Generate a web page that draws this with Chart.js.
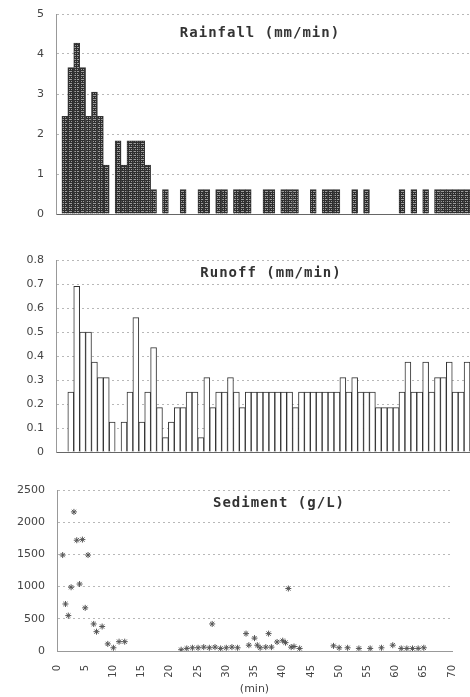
<!DOCTYPE html>
<html>
<head>
<meta charset="utf-8">
<script src="https://cdn.jsdelivr.net/npm/chart.js@4.4.0/dist/chart.umd.min.js"></script>
<style>
  body { margin: 0; background: #fff; }
  #page { position: relative; width: 470px; height: 697px; overflow: hidden; }
  .panel { position: absolute; left: 0; width: 470px; }
  .label { position: absolute; transform: translate(-50%, -50%); font: bold 14px 'DejaVu Sans Mono', monospace; color: #333; letter-spacing: 1px; white-space: nowrap; }
</style>
</head>
<body>
<div id="page">
  <div class="panel" style="top:0;height:224px"><canvas id="rainChart"></canvas></div>
  <div class="panel" style="top:246px;height:216px"><canvas id="runoffChart"></canvas></div>
  <div class="panel" style="top:470px;height:227px"><canvas id="sedChart"></canvas></div>
  <div class="label" style="left:260px;top:32px">Rainfall (mm/min)</div>
  <div class="label" style="left:271px;top:272px">Runoff (mm/min)</div>
  <div class="label" style="left:279px;top:502px">Sediment (g/L)</div>
</div>
<script>
// Minute categories for the two bar panels (0..69)
const minutes = [0, 1, 2, 3, 4, 5, 6, 7, 8, 9, 10, 11, 12, 13, 14, 15, 16, 17, 18, 19,
    20, 21, 22, 23, 24, 25, 26, 27, 28, 29, 30, 31, 32, 33, 34, 35, 36, 37, 38, 39,
    40, 41, 42, 43, 44, 45, 46, 47, 48, 49, 50, 51, 52, 53, 54, 55, 56, 57, 58, 59,
    60, 61, 62, 63, 64, 65, 66, 67, 68, 69];

// Rainfall intensity (mm/min)
const rainfall = [0, 2.44, 3.66, 4.27, 3.66, 2.44, 3.05, 2.44, 1.22, 0,
    1.83, 1.22, 1.83, 1.83, 1.83, 1.22, 0.61, 0, 0.61, 0,
    0, 0.61, 0, 0, 0.61, 0.61, 0, 0.61, 0.61, 0,
    0.61, 0.61, 0.61, 0, 0, 0.61, 0.61, 0, 0.61, 0.61,
    0.61, 0, 0, 0.61, 0, 0.61, 0.61, 0.61, 0, 0,
    0.61, 0, 0.61, 0, 0, 0, 0, 0, 0.61, 0,
    0.61, 0, 0.61, 0, 0.61, 0.61, 0.61, 0.61, 0.61, 0.61];

// Runoff rate (mm/min)
const runoff = [0, 0, 0.25, 0.69, 0.5, 0.5, 0.375, 0.31, 0.31, 0.125,
    0, 0.125, 0.25, 0.56, 0.125, 0.25, 0.435, 0.185, 0.06, 0.125,
    0.185, 0.185, 0.25, 0.25, 0.06, 0.31, 0.185, 0.25, 0.25, 0.31,
    0.25, 0.185, 0.25, 0.25, 0.25, 0.25, 0.25, 0.25, 0.25, 0.25,
    0.185, 0.25, 0.25, 0.25, 0.25, 0.25, 0.25, 0.25, 0.31, 0.25,
    0.31, 0.25, 0.25, 0.25, 0.185, 0.185, 0.185, 0.185, 0.25, 0.375,
    0.25, 0.25, 0.375, 0.25, 0.31, 0.31, 0.375, 0.25, 0.25, 0.375];

// Sediment concentration samples (time in min, g/L)
const sedTime = [1, 1.5, 2, 2.5, 3, 3.5, 4, 4.5, 5, 5.5, 6.5, 7, 8, 9, 10, 11, 12,
    22, 23, 24, 25, 26, 27, 27.5, 28, 29, 30, 31, 32,
    33.5, 34, 35, 35.5, 36, 37, 37.5, 38, 39, 40, 40.5, 41, 41.5, 42, 43,
    49, 50, 51.5, 53.5, 55.5, 57.5, 59.5, 61, 62, 63, 64, 65];
const sediment = [1490, 730, 550, 990, 2160, 1720, 1040, 1730, 670, 1490, 420, 300, 380, 110, 50, 145, 145,
    20, 40, 50, 50, 60, 50, 420, 60, 40, 50, 60, 50,
    270, 90, 200, 90, 50, 60, 270, 60, 140, 160, 130, 970, 60, 70, 40,
    80, 50, 50, 40, 40, 50, 90, 40, 40, 40, 40, 50];

const rainTicks = [0, 5, 1];
const runoffTicks = [0, 0.8, 0.1];
const sedTicks = [0, 2500, 500];
const timeTicks = [0, 70, 5];

const tickFont = { family: "'DejaVu Sans', sans-serif", size: 11 };
const tickColor = '#444';

// Hatched fill for rainfall bars
function makeHatch() {
    const c = document.createElement('canvas');
    c.width = 4; c.height = 4;
    const g = c.getContext('2d');
    g.fillStyle = '#9c9c9c';
    g.fillRect(0, 0, 4, 4);
    g.fillStyle = '#2e2e2e';
    g.fillRect(0, 0, 4, 1);
    g.fillRect(0, 2, 4, 1);
    g.fillRect(0, 0, 1, 4);
    g.fillRect(2, 1, 1, 1);
    return g.createPattern(c, 'repeat');
}

function yAxis(range, width, fmt) {
    return {
        min: range[0],
        max: range[1],
        afterFit: s => { s.width = width; },
        ticks: {
            stepSize: range[2],
            padding: 3,
            font: tickFont,
            color: tickColor,
            callback: fmt
        },
        grid: {
            drawTicks: true,
            tickLength: 9,
            tickColor: 'rgba(0,0,0,0)',
            color: c => c.tick.value === 0 ? 'rgba(0,0,0,0)' : '#b8b8b8'
        },
        border: { color: '#999', dash: [2, 3] }
    };
}

function barChart(id, data, range, fmt, style) {
    return new Chart(document.getElementById(id), {
        type: 'bar',
        data: {
            labels: minutes,
            datasets: [Object.assign({
                data: data,
                barPercentage: 1,
                categoryPercentage: 1,
                borderWidth: 1,
                borderSkipped: 'bottom'
            }, style)]
        },
        options: {
            responsive: true,
            maintainAspectRatio: false,
            animation: false,
            layout: { padding: { top: 14, bottom: 10, left: 0, right: 0 } },
            plugins: { legend: { display: false }, tooltip: { enabled: false } },
            scales: {
                x: {
                    afterFit: s => { s.height = 0; },
                    ticks: { display: false },
                    grid: { display: false },
                    border: { color: '#666' }
                },
                y: yAxis(range, 56, fmt)
            }
        }
    });
}

document.addEventListener('DOMContentLoaded', function() {
    barChart('rainChart', rainfall, rainTicks, v => v, {
        backgroundColor: makeHatch(),
        borderColor: '#333'
    });

    barChart('runoffChart', runoff, runoffTicks, v => +v.toFixed(1), {
        backgroundColor: '#fff',
        borderColor: '#333'
    });

    new Chart(document.getElementById('sedChart'), {
        type: 'scatter',
        data: {
            datasets: [{
                data: sedTime.map((t, i) => ({ x: t, y: sediment[i] })),
                pointStyle: 'star',
                radius: 3,
                borderColor: '#555',
                borderWidth: 1,
                backgroundColor: '#fff'
            }]
        },
        options: {
            responsive: true,
            maintainAspectRatio: false,
            animation: false,
            layout: { padding: { top: 20, bottom: 0, left: 0, right: 7 } },
            plugins: { legend: { display: false }, tooltip: { enabled: false } },
            scales: {
                x: {
                    type: 'linear',
                    min: timeTicks[0],
                    max: timeTicks[1],
                    afterFit: s => { s.height = 46; },
                    ticks: {
                        stepSize: timeTicks[2],
                        autoSkip: false,
                        minRotation: 90,
                        maxRotation: 90,
                        padding: 6,
                        font: { family: "'DejaVu Sans', sans-serif", size: 10 },
                        color: tickColor
                    },
                    grid: { display: false },
                    border: { color: '#999' },
                    title: {
                        display: true,
                        text: '(min)',
                        color: '#444',
                        font: { family: "'DejaVu Sans', sans-serif", size: 11 },
                        padding: { top: 4, bottom: 1 }
                    }
                },
                y: yAxis(sedTicks, 57, v => v)
            }
        }
    });
});
</script>
</body>
</html>
